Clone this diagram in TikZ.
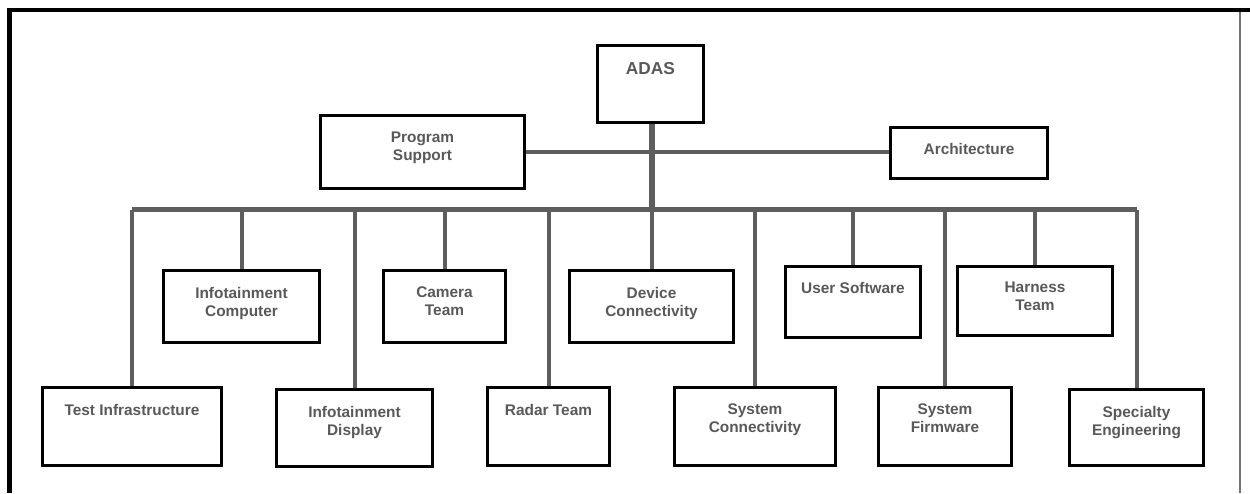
\documentclass[tikz,border=0pt]{standalone}
\usepackage{fontspec}
\setmainfont{Liberation Sans}
\pgfdeclarelayer{wires}
\pgfsetlayers{wires,main}
\begin{document}
\begin{tikzpicture}[x=1pt,y=-1pt,
  box/.style={draw=black,line width=3pt,fill=white,inner sep=0pt},
  lbl/.style={anchor=north,inner sep=0pt,align=center,text=txtgrey,
    font=\bfseries\fontsize{15.4}{18}\selectfont},
  link/.style={draw=linkgrey,line width=4pt},
  bus/.style={draw=linkgrey,line width=5pt},
]
\definecolor{txtgrey}{HTML}{595959}
\definecolor{linkgrey}{HTML}{5E5E5E}
\useasboundingbox (0,0) rectangle (1250,493);

% window frame
\draw[black,line width=4pt] (7,10) -- (1250,10);
\draw[black,line width=5pt] (9.5,8) -- (9.5,493);
\draw[black!55,line width=1.5pt] (1240,12) -- (1240,493);

% boxes
\node[box,minimum width=106,minimum height=77] (adas) at (650.5,84) {};
\node[box,minimum width=204,minimum height=73] (ps)   at (422.5,152) {};
\node[box,minimum width=157,minimum height=51] (arch) at (969,153) {};
\node[box,minimum width=156,minimum height=72] (ic) at (241.5,306.5) {};
\node[box,minimum width=122,minimum height=72] (ct) at (444.5,306.5) {};
\node[box,minimum width=164,minimum height=72] (dc) at (651.5,306.5) {};
\node[box,minimum width=135,minimum height=71] (us) at (853,302) {};
\node[box,minimum width=155,minimum height=69] (ht) at (1035,301) {};
\node[box,minimum width=179,minimum height=78] (ti) at (132,426.5) {};
\node[box,minimum width=156,minimum height=77] (id) at (354.5,428) {};
\node[box,minimum width=122,minimum height=78] (rt) at (548.5,426.5) {};
\node[box,minimum width=161,minimum height=78] (sc) at (755,426.5) {};
\node[box,minimum width=133,minimum height=78] (sf) at (945,426.5) {};
\node[box,minimum width=134,minimum height=76] (se) at (1136.5,427.5) {};

% labels
\node[lbl,font=\bfseries\fontsize{17.3}{20}\selectfont] (adasT) at (650.5,62.5) {ADAS};
\node[lbl] (psT)   at (ps.center |- 0,132) {Program\\Support};
\node[lbl] (archT) at (arch.center |- 0,143) {Architecture};
\node[lbl] (icT) at (ic.center |- 0,287) {Infotainment\\Computer};
\node[lbl] (ctT) at (ct.center |- 0,287) {Camera\\Team};
\node[lbl] (dcT) at (dc.center |- 0,287) {Device\\Connectivity};
\node[lbl] (usT) at (us.center |- 0,282) {User Software};
\node[lbl] (htT) at (ht.center |- 0,282) {Harness\\Team};
\node[lbl] (tiT) at (ti.center |- 0,404) {Test Infrastructure};
\node[lbl] (idT) at (id.center |- 0,406) {Infotainment\\Display};
\node[lbl] (rtT) at (rt.center |- 0,404) {Radar Team};
\node[lbl] (scT) at (sc.center |- 0,404) {System\\Connectivity};
\node[lbl] (sfT) at (sf.center |- 0,404) {System\\Firmware};
\node[lbl] (seT) at (se.center |- 0,406) {Specialty\\Engineering};

% connectors, drawn beneath the boxes
\coordinate (hub) at (652,209.5);
\begin{pgfonlayer}{wires}
\draw[link,line width=3.5pt] (ps.east) -- (arch.west |- ps.east);
\draw[bus] (ti.north |- hub) -- (se.north |- hub);
\draw[link,line width=6pt] (adas.south -| hub) -- (hub);
\foreach \b in {ti,ic,id,ct,rt,dc,sc,us,sf,ht,se}
  \draw[link] (\b.north |- hub) -- (\b.north);
\end{pgfonlayer}
\end{tikzpicture}
\end{document}
